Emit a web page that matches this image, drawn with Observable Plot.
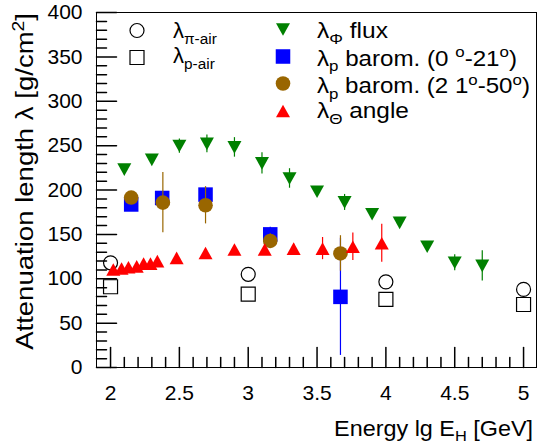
<!DOCTYPE html>
<html><head><meta charset="utf-8">
<script src="https://cdn.jsdelivr.net/npm/d3@7"></script>
<script src="https://cdn.jsdelivr.net/npm/@observablehq/plot@0.6"></script>
<style>body{margin:0;background:#fff}svg text{white-space:pre}</style>
</head><body><div id="chart"></div>
<script>
// ---- data ----
const piAirE = [2.0, 3.0, 4.0, 5.0];
const piAirL = [118, 105, 96.5, 88];
const pAirE = [2.0, 3.0, 4.0, 5.0];
const pAirL = [91, 82.7, 76.7, 71];

const fluxE = [2.1, 2.3, 2.5, 2.7, 2.9, 3.1, 3.3, 3.5, 3.7, 3.9, 4.1, 4.3, 4.5, 4.7];
const fluxL = [223, 234, 249.5, 252, 248, 230, 213, 198, 186, 172.7, 163, 136, 118, 114.5];
const fluxErr = [4, 4, 8, 10, 11, 12, 11, 4, 9, 4, 4, 4, 9, 17];

const barom1E = [2.15, 2.375, 2.69, 3.16, 3.67];
const barom1L = [183.7, 191, 194.8, 150, 79.6];
const barom1Err = [5, 5, 8, 8, 66];

const barom2E = [2.15, 2.38, 2.69, 3.16, 3.67];
const barom2L = [191.5, 185.8, 182.8, 142.6, 128.5];
const barom2Err = [6, 34, 21, 8, 20];

const angleE = [2.02, 2.08, 2.13, 2.19, 2.24, 2.29, 2.34, 2.48, 2.69, 2.90, 3.12, 3.33, 3.54, 3.76, 3.97];
const angleL = [110.5, 111.6, 113, 114, 117, 117, 119.8, 123.5, 129, 133, 133, 134, 134, 136, 140];
const angleErr = [3, 3, 3, 3, 3, 3, 3, 4, 4, 4, 4, 5, 12.5, 15.5, 21.5];

const xMajorTicks = [2, 2.5, 3, 3.5, 4, 4.5, 5];
const yMajorTicks = [0, 50, 100, 150, 200, 250, 300, 350, 400];

const legendLeft = ["λ_{π-air}", "λ_{p-air}"];
const legendRight = ["λ_{Φ} flux", "λ_{p} barom. (0 ^{o}-21^{o})", "λ_{p} barom. (2 1^{o}-50^{o})", "λ_{Θ} angle"];
const xTitle = "Energy lg E_{H} [GeV]";
const yTitle = "Attenuation length λ [g/cm^{2}]";

// ---- build tables ----
const tbl = (E, L, Er) => E.map((e, i) => ({e, l: L[i], err: Er ? Er[i] : 0}));
const piAir = tbl(piAirE, piAirL), pAir = tbl(pAirE, pAirL);
const flux = tbl(fluxE, fluxL, fluxErr);
const barom1 = tbl(barom1E, barom1L, barom1Err);
const barom2 = tbl(barom2E, barom2L, barom2Err);
const angle = tbl(angleE, angleL, angleErr);

const xMinorTicks = d3.range(20, 51).map(v => v / 10).filter(v => !xMajorTicks.some(t => Math.abs(t - v) < 1e-9));
const yMinorTicks = d3.range(0, 401, 10).filter(v => v % 50 !== 0);

const GREEN = "#008000", BLUE = "#0000ff", BROWN = "#996600", RED = "#ff0000";
const FONT = "'Liberation Sans', Arial, Helvetica, sans-serif";

const triUp = {draw(ctx, size) { const s = Math.sqrt(size), a = 0.76 * s, b = 0.684 * s;
  ctx.moveTo(-a, b); ctx.lineTo(a, b); ctx.lineTo(0, -b); ctx.closePath(); }};
const triDown = {draw(ctx, size) { const s = Math.sqrt(size), a = 0.76 * s, b = 0.684 * s;
  ctx.moveTo(-a, -b); ctx.lineTo(a, -b); ctx.lineTo(0, b); ctx.closePath(); }};
const tickShape = {draw(ctx, l) { ctx.moveTo(0, 0); ctx.lineTo(0, -l); }};

const err = (data, color) => Plot.ruleX(data, {x: "e", y1: d => d.l - d.err, y2: d => d.l + d.err, stroke: color, strokeWidth: 1.2});

const chart = Plot.plot({
  width: 537, height: 447,
  marginLeft: 96, marginRight: 1, marginTop: 12, marginBottom: 80,
  style: {fontFamily: FONT, background: "#fff", color: "black"},
  x: {domain: [1.898, 5.094], label: null},
  y: {domain: [0, 400], label: null},
  marks: [
    // ticks
    Plot.vector(xMajorTicks, {x: d => d, frameAnchor: "bottom", length: 20, anchor: "start", shape: tickShape, stroke: "black"}),
    Plot.vector(xMinorTicks, {x: d => d, frameAnchor: "bottom", length: 10, anchor: "start", shape: tickShape, stroke: "black"}),
    Plot.vector(yMajorTicks, {y: d => d, frameAnchor: "left", length: 20, rotate: 90, anchor: "start", shape: tickShape, stroke: "black"}),
    Plot.vector(yMinorTicks, {y: d => d, frameAnchor: "left", length: 10, rotate: 90, anchor: "start", shape: tickShape, stroke: "black"}),
    Plot.axisX({ticks: xMajorTicks, tickFormat: d => `${d}`, tickSize: 0, tickPadding: 18, fontSize: 21, label: null}),
    Plot.axisY({ticks: yMajorTicks, tickFormat: d => `${d}`, tickSize: 0, tickPadding: 14, fontSize: 21, label: null}),
    // open markers
    Plot.dot(piAir, {x: "e", y: "l", symbol: "circle", r: 7, stroke: "black", strokeWidth: 1.2, fill: "none"}),
    Plot.dot(pAir, {x: "e", y: "l", symbol: "square", r: 7.9, stroke: "black", strokeWidth: 1.2, fill: "none"}),
    // flux
    err(flux, GREEN),
    Plot.dot(flux, {x: "e", y: "l", symbol: triDown, r: 5.2, fill: GREEN, stroke: "none"}),
    // barometric
    err(barom1, BLUE),
    Plot.dot(barom1, {x: "e", y: "l", symbol: "square", r: 8.2, fill: BLUE, stroke: "none"}),
    err(barom2, BROWN),
    Plot.dot(barom2, {x: "e", y: "l", symbol: "circle", r: 7.3, fill: BROWN, stroke: "none"}),
    // angle
    err(angle, RED),
    Plot.dot(angle, {x: "e", y: "l", symbol: triUp, r: 5.2, fill: RED, stroke: "none"}),
    // legend markers
    Plot.dot([0], {frameAnchor: "top-left", dx: 40.5, dy: 18, symbol: "circle", r: 7, stroke: "black", strokeWidth: 1.2, fill: "none"}),
    Plot.dot([0], {frameAnchor: "top-left", dx: 40.5, dy: 45, symbol: "square", r: 7.9, stroke: "black", strokeWidth: 1.2, fill: "none"}),
    Plot.dot([0], {frameAnchor: "top-left", dx: 186.5, dy: 17, symbol: triDown, r: 5.2, fill: GREEN, stroke: "none"}),
    Plot.dot([0], {frameAnchor: "top-left", dx: 186.5, dy: 44, symbol: "square", r: 8.2, fill: BLUE, stroke: "none"}),
    Plot.dot([0], {frameAnchor: "top-left", dx: 186.5, dy: 71, symbol: "circle", r: 7.3, fill: BROWN, stroke: "none"}),
    Plot.dot([0], {frameAnchor: "top-left", dx: 186.5, dy: 98.5, symbol: triUp, r: 5.2, fill: RED, stroke: "none"}),
    Plot.frame({stroke: "black", strokeWidth: 1})
  ]
});
document.getElementById("chart").appendChild(chart);

// ---- rich text (sub/superscripts), optionally stretched along its direction ----
const svg = d3.select(chart);
function rich(str, x, y, size, anchor, rot, target) {
  const t = svg.append("text").attr("x", x).attr("y", y).attr("font-size", size)
    .attr("text-anchor", anchor).attr("fill", "black").attr("font-family", FONT);
  const re = /([_^])\{([^}]*)\}/g; let last = 0, m, shift = 0;
  while ((m = re.exec(str))) {
    if (m.index > last) { t.append("tspan").attr("dy", -shift).text(str.slice(last, m.index)); shift = 0; }
    const s = m[1] === "_" ? 0.25 * size : -0.38 * size;
    t.append("tspan").attr("dy", s - shift).attr("font-size", size * 0.7).text(m[2]);
    shift = s; last = re.lastIndex;
  }
  if (last < str.length) t.append("tspan").attr("dy", -shift).text(str.slice(last));
  let sx = 1;
  if (target) sx = target / t.node().getComputedTextLength();
  t.attr("transform", `translate(${x},${y}) rotate(${rot || 0}) scale(${sx},1) translate(${-x},${-y})`);
  return t;
}
rich(legendLeft[0], 173, 38, 22, "start");
rich(legendLeft[1], 173, 63, 22, "start");
rich(legendRight[0], 317, 38.3, 22, "start", 0, 71);
rich(legendRight[1], 317, 65.7, 22, "start", 0, 200);
rich(legendRight[2], 317, 93.3, 22, "start", 0, 213);
rich(legendRight[3], 317, 118.3, 22, "start", 0, 92);
rich(xTitle, 533, 436, 22, "end", 0, 199);
rich(yTitle, 33, 13, 24, "end", -90, 337);
</script></body></html>
